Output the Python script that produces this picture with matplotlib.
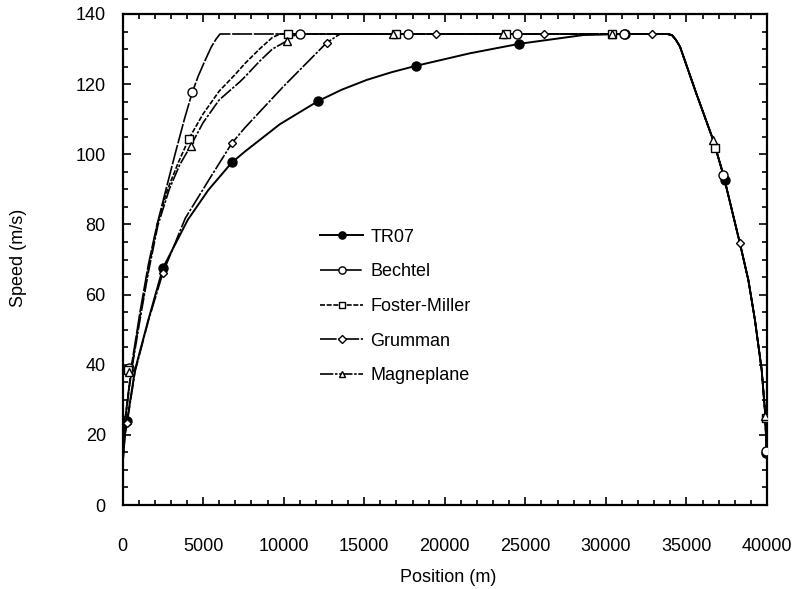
import matplotlib
matplotlib.use("Agg")
import matplotlib.pyplot as plt
from matplotlib.lines import Line2D
from matplotlib.ticker import MultipleLocator

plt.rcParams['font.family'] = ['Liberation Sans', 'DejaVu Sans']

# ---------------- data ----------------
decel_x = [33800, 34100, 34350, 34600, 35600, 36665, 37300, 38330, 38840, 39250, 39670, 39870, 40000]
decel_v = [134.3, 134.0, 132.6, 130.7, 117.5, 104.0, 94.0, 74.4, 64.2, 52.8, 38.5, 27.0, 13.0]

tr07_x = [0, 155, 279, 776, 1603, 2513, 4050, 5326, 6775, 7602, 9774, 12152, 13600, 15155, 16700, 18196, 21566, 24626, 28598, 31186]
tr07_v = [11, 20.4, 24, 38.5, 52.8, 67.6, 81.3, 89.8, 97.6, 100.8, 108.6, 115.2, 118.4, 121.2, 123.4, 125.2, 128.8, 131.5, 134.0, 134.3]
tr07_mx = [279, 2513, 6795, 12133, 18214, 24607, 31186, 37390, 39950]
tr07_mv = [24, 67.6, 97.8, 115.2, 125.2, 131.4, 134.3, 92.7, 14.8]

bech_x = [0, 155, 569, 1086, 1603, 2122, 2700, 3277, 3859, 4333, 4700, 5100, 5500, 5800, 6050]
bech_v = [12, 24, 40, 55, 68.5, 79.5, 90, 100.3, 110.3, 117.7, 122.3, 126.5, 130.5, 132.8, 134.3]
bech_mx = [400, 4333, 11016, 17718, 24483, 31150, 37262, 39960]
bech_mv = [39, 117.7, 134.3, 134.3, 134.3, 134.3, 94.1, 15.5]

fm_x = [0, 150, 560, 1080, 1600, 2170, 2800, 3450, 4127, 5000, 6000, 7000, 7602, 8500, 9300, 9774]
fm_v = [12, 24, 39, 53.5, 67, 80.3, 90, 97.5, 104.5, 111.5, 118, 122.8, 125.9, 130, 133.3, 134.3]
fm_mx = [341, 4127, 10250, 16950, 23800, 30379, 36770, 39916]
fm_mv = [38.5, 104.5, 134.3, 134.3, 134.3, 134.3, 101.8, 24.7]

grum_x = [0, 155, 290, 776, 1603, 2500, 3900, 5400, 6795, 7602, 9980, 12672, 13498]
grum_v = [11, 20, 23.5, 38, 52.5, 66.1, 81.8, 93, 103.2, 107.6, 119.3, 131.8, 134.3]
grum_mx = [290, 2500, 6795, 12690, 19456, 26159, 32862, 38320]
grum_mv = [23.5, 66.1, 103.2, 131.8, 134.3, 134.3, 134.3, 74.7]

mag_x = [0, 150, 570, 1090, 1610, 2200, 2900, 3550, 4232, 5000, 6000, 7292, 7602, 8500, 9300, 10190, 10700, 11000]
mag_v = [12, 23.5, 38.5, 53, 66.5, 79.8, 90, 97, 102.4, 109, 115.5, 120.7, 122.1, 126.5, 130, 132.3, 134.0, 134.3]
mag_mx = [380, 4232, 10190, 16787, 23614, 30350, 36646, 39900]
mag_mv = [38, 102.4, 132.3, 134.3, 134.3, 134.3, 104, 25.5]

names = ['TR07', 'Bechtel', 'Foster-Miller', 'Grumman', 'Magneplane']
curves = [(tr07_x, tr07_v), (bech_x, bech_v), (fm_x, fm_v), (grum_x, grum_v), (mag_x, mag_v)]
marks = [(tr07_mx, tr07_mv), (bech_mx, bech_mv), (fm_mx, fm_mv), (grum_mx, grum_mv), (mag_mx, mag_mv)]

x_ticks = [0, 5000, 10000, 15000, 20000, 25000, 30000, 35000, 40000]
y_ticks = [0, 20, 40, 60, 80, 100, 120, 140]

# ---------------- styles ----------------
styles = [
    dict(ls='-', lw=1.4, marker='o', ms=6.5, mfc='black'),
    dict(ls=(0, (12, 1)), lw=1.2, marker='o', ms=6.5, mfc='white'),
    dict(ls=(0, (3, 1)), lw=1.2, marker='s', ms=6, mfc='white'),
    dict(ls=(0, (10, 1, 1.5, 1)), lw=1.2, marker='D', ms=4.5, mfc='white'),
    dict(ls=(0, (8, 1, 1.5, 1)), lw=1.2, marker='^', ms=6, mfc='white'),
]

fig = plt.figure(figsize=(7.95, 5.89), dpi=100)
ax = fig.add_axes([122.5 / 795, 84 / 589, 644.5 / 795, 491 / 589])

handles = []
for (cx, cv), (mx, mv), st, nm in zip(curves, marks, styles, names):
    xs = list(cx) + list(decel_x)
    vs = list(cv) + list(decel_v)
    ax.plot(xs, vs, color='black', ls=st['ls'], lw=st['lw'], zorder=2)
    ax.plot(mx, mv, ls='none', marker=st['marker'], ms=st['ms'], mfc=st['mfc'],
            mec='black', mew=1.0, zorder=3)
    handles.append(Line2D([], [], color='black', ls=st['ls'], lw=st['lw'],
                          marker=st['marker'], ms=st['ms'] * 0.8, mfc=st['mfc'],
                          mec='black', mew=1.0))

ax.set_xlim(0, 40000)
ax.set_ylim(0, 140)
ax.set_xticks(x_ticks)
ax.set_xticklabels([str(t) for t in x_ticks])
ax.set_yticks(y_ticks)
ax.set_yticklabels([str(t) for t in y_ticks])
ax.xaxis.set_minor_locator(MultipleLocator(1000))
ax.yaxis.set_minor_locator(MultipleLocator(5))
ax.tick_params(which='both', direction='in', top=True, right=True, width=1.2, labelsize=13)
ax.tick_params(which='major', length=6)
ax.tick_params(which='minor', length=3.5)
ax.tick_params(axis='x', which='major', pad=24)
ax.tick_params(axis='y', which='major', pad=12)
for sp in ax.spines.values():
    sp.set_linewidth(1.6)

fig.text(448 / 795, 1 - 578 / 589, 'Position (m)', ha='center', va='center', fontsize=13)
fig.text(19 / 795, 1 - 258 / 589, 'Speed (m/s)', ha='center', va='center', rotation=90, fontsize=13)

ax.legend(handles, names, loc='upper left', bbox_to_anchor=(0.3064, 0.563),
          frameon=False, fontsize=13, numpoints=1, handlelength=2.4,
          handletextpad=0.4, labelspacing=0.98, borderpad=0, borderaxespad=0)

fig.savefig('out.png', dpi=100)
